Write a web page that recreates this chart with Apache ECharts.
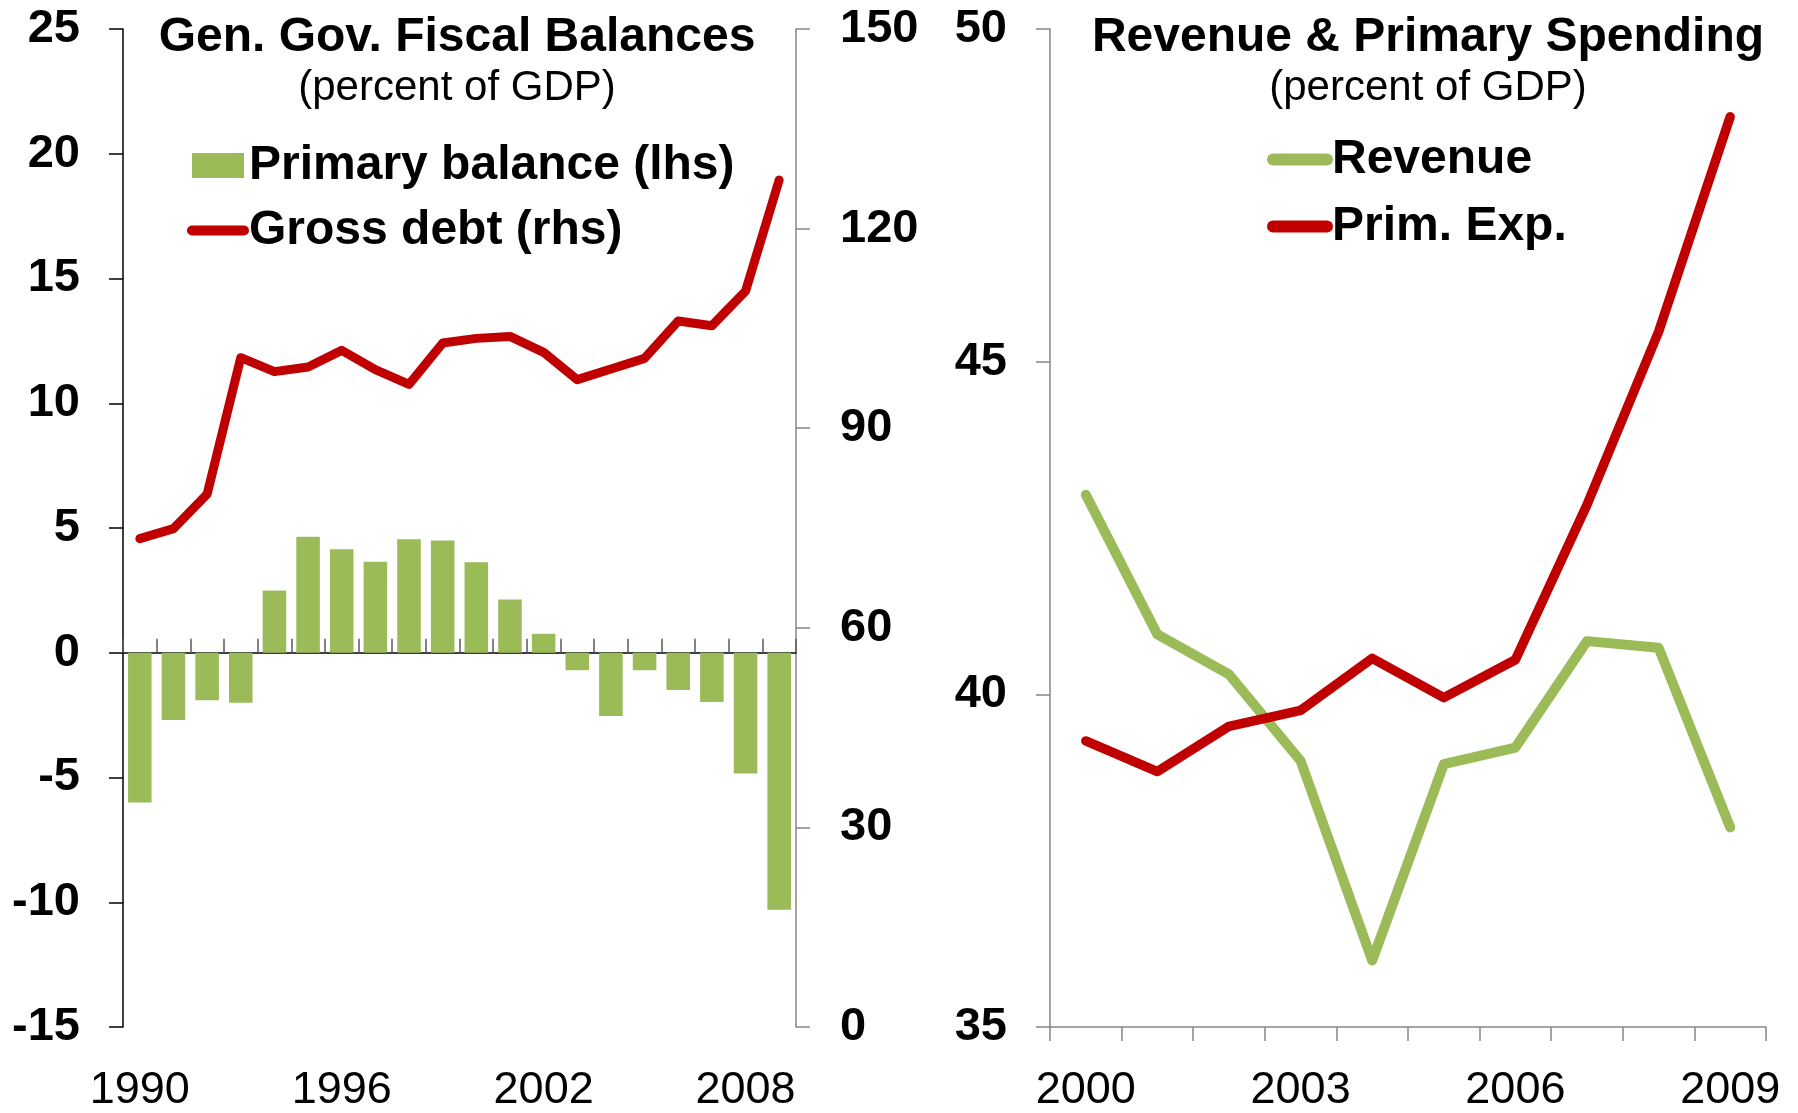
<!DOCTYPE html>
<html>
<head>
<meta charset="utf-8">
<title>Fiscal balances and primary spending</title>
<script src="https://cdn.jsdelivr.net/npm/echarts@6/dist/echarts.min.js"></script>
<style>
  html, body { margin: 0; padding: 0; background: #ffffff; }
  #chart { width: 1798px; height: 1113px; }
</style>
</head>
<body>
<div id="chart"></div>
<script>
// ---- Left panel: general government fiscal balances (percent of GDP) ----
const balanceYears = ['1990','1991','1992','1993','1994','1995','1996','1997','1998','1999',
                      '2000','2001','2002','2003','2004','2005','2006','2007','2008','2009'];
const primaryBalance = [-6.0, -2.7, -1.9, -2.0, 2.5, 4.65, 4.15, 3.65, 4.55, 4.5,
                        3.63, 2.13, 0.76, -0.7, -2.54, -0.7, -1.49, -1.97, -4.84, -10.3];
const grossDebt = [73.4, 74.9, 80.1, 100.6, 98.5, 99.2, 101.7, 98.8, 96.6, 102.8,
                   103.5, 103.8, 101.4, 97.3, 98.9, 100.5, 106.1, 105.4, 110.6, 127.3];
const lhsTicks = { min: -15, max: 25, step: 5 };
const rhsTicks = { min: 0, max: 150, step: 30 };

// ---- Right panel: revenue and primary spending (percent of GDP) ----
const spendYears = ['2000','2001','2002','2003','2004','2005','2006','2007','2008','2009'];
const revenue = [43.0, 40.9, 40.3, 39.0, 36.0, 38.95, 39.2, 40.8, 40.7, 38.0];
const primExp = [39.3, 38.84, 39.52, 39.76, 40.54, 39.95, 40.52, 42.85, 45.45, 48.68];
const spendTicks = { min: 35, max: 50, step: 5 };

const GREEN = '#9BBB59';
const RED = '#C00000';
const FONT = '"Liberation Sans", Arial, sans-serif';
const GREY_AXIS = '#868686';

const chart = echarts.init(document.getElementById('chart'), null, { renderer: 'canvas' });

// value labels are nudged down a little so the digits sit centred on their ticks
const boldLabel = { fontFamily: FONT, fontWeight: 'bold', fontSize: 47, color: '#000', padding: [7, 0, 0, 0] };
const yearLabel = { fontFamily: FONT, fontSize: 45, color: '#000' };
const legendText = { fontFamily: FONT, fontWeight: 'bold', fontSize: 48, lineHeight: 48, color: '#000', padding: [7, 0, 0, 0] };

const option = {
  animation: false,
  backgroundColor: '#ffffff',
  grid: [
    { left: 123, top: 29, width: 673, height: 1003 },
    { left: 1050, top: 29, width: 716, height: 1003 }
  ],
  graphic: [
    { type: 'text', x: 457, y: 37.5, style: { text: 'Gen. Gov. Fiscal Balances', align: 'center', verticalAlign: 'middle',
        font: 'bold 48px ' + FONT, fill: '#000' } },
    { type: 'text', x: 457, y: 88.5, style: { text: '(percent of GDP)', align: 'center', verticalAlign: 'middle',
        font: '42px ' + FONT, fill: '#000' } },
    { type: 'text', x: 1428, y: 37.5, style: { text: 'Revenue & Primary Spending', align: 'center', verticalAlign: 'middle',
        font: 'bold 48px ' + FONT, fill: '#000' } },
    { type: 'text', x: 1428, y: 88.5, style: { text: '(percent of GDP)', align: 'center', verticalAlign: 'middle',
        font: '42px ' + FONT, fill: '#000' } }
  ],
  legend: [
    {
      orient: 'vertical', left: 182, top: 133, itemWidth: 52, itemHeight: 25, itemGap: 10,
      selectedMode: false,
      textStyle: legendText,
      lineStyle: { width: 10, cap: 'round' },
      data: [
        { name: 'Primary balance (lhs)', icon: 'rect' },
        { name: 'Gross debt (rhs)', itemStyle: { color: 'rgba(0,0,0,0)', borderWidth: 0 } }
      ]
    },
    {
      orient: 'vertical', left: 1262, top: 127, itemWidth: 54, itemHeight: 25, itemGap: 12,
      selectedMode: false,
      textStyle: legendText,
      lineStyle: { width: 12, cap: 'round' },
      data: [
        { name: 'Revenue', itemStyle: { color: 'rgba(0,0,0,0)', borderWidth: 0 } },
        { name: 'Prim. Exp.', itemStyle: { color: 'rgba(0,0,0,0)', borderWidth: 0 } }
      ]
    }
  ],
  xAxis: [
    // year labels along the bottom of the left panel
    {
      type: 'category', gridIndex: 0, data: balanceYears, position: 'bottom',
      axisLine: { show: false, onZero: false },
      axisTick: { show: false },
      axisLabel: Object.assign({ interval: 5, margin: 41 }, yearLabel),
      splitLine: { show: false }
    },
    // zero line with category ticks
    {
      type: 'category', gridIndex: 0, data: balanceYears,
      axisLine: { show: true, onZero: true, onZeroAxisIndex: 0, lineStyle: { color: '#000', width: 1.5 } },
      axisTick: { show: true, interval: 0, inside: false, length: 14, lineStyle: { color: '#595959', width: 1.5 } },
      axisLabel: { show: false },
      splitLine: { show: false }
    },
    {
      type: 'category', gridIndex: 1, data: spendYears,
      axisLine: { show: true, onZero: false, lineStyle: { color: GREY_AXIS, width: 1.5 } },
      axisTick: { show: true, interval: 0, length: 14, lineStyle: { color: GREY_AXIS, width: 1.5 } },
      axisLabel: Object.assign({ interval: 2, margin: 41 }, yearLabel),
      splitLine: { show: false }
    }
  ],
  yAxis: [
    {
      type: 'value', gridIndex: 0, position: 'left',
      min: lhsTicks.min, max: lhsTicks.max, interval: lhsTicks.step,
      axisLine: { show: true, lineStyle: { color: '#000', width: 1.5 } },
      axisTick: { show: true, length: 14, lineStyle: { color: '#000', width: 1.5 } },
      axisLabel: Object.assign({ margin: 43 }, boldLabel),
      splitLine: { show: false }
    },
    {
      type: 'value', gridIndex: 0, position: 'right',
      min: rhsTicks.min, max: rhsTicks.max, interval: rhsTicks.step,
      axisLine: { show: true, onZero: false, lineStyle: { color: GREY_AXIS, width: 1.5 } },
      axisTick: { show: true, length: 14, lineStyle: { color: GREY_AXIS, width: 1.5 } },
      axisLabel: Object.assign({ margin: 44 }, boldLabel),
      splitLine: { show: false }
    },
    {
      type: 'value', gridIndex: 1, position: 'left',
      min: spendTicks.min, max: spendTicks.max, interval: spendTicks.step,
      axisLine: { show: true, onZero: false, lineStyle: { color: GREY_AXIS, width: 1.5 } },
      axisTick: { show: true, length: 14, lineStyle: { color: GREY_AXIS, width: 1.5 } },
      axisLabel: Object.assign({ margin: 43 }, boldLabel),
      splitLine: { show: false }
    }
  ],
  series: [
    {
      name: 'Primary balance (lhs)', type: 'bar', xAxisIndex: 0, yAxisIndex: 0,
      data: primaryBalance, barCategoryGap: '30%',
      itemStyle: { color: GREEN }
    },
    {
      name: 'Gross debt (rhs)', type: 'line', xAxisIndex: 0, yAxisIndex: 1,
      data: grossDebt, symbol: 'none', z: 5,
      lineStyle: { color: RED, width: 9, cap: 'round', join: 'round' },
      itemStyle: { color: RED }
    },
    {
      name: 'Revenue', type: 'line', xAxisIndex: 2, yAxisIndex: 2,
      data: revenue, symbol: 'none',
      lineStyle: { color: GREEN, width: 10, cap: 'round', join: 'round' },
      itemStyle: { color: GREEN }
    },
    {
      name: 'Prim. Exp.', type: 'line', xAxisIndex: 2, yAxisIndex: 2,
      data: primExp, symbol: 'none',
      lineStyle: { color: RED, width: 9.5, cap: 'round', join: 'round' },
      itemStyle: { color: RED }
    }
  ]
};

chart.setOption(option);
</script>
</body>
</html>
